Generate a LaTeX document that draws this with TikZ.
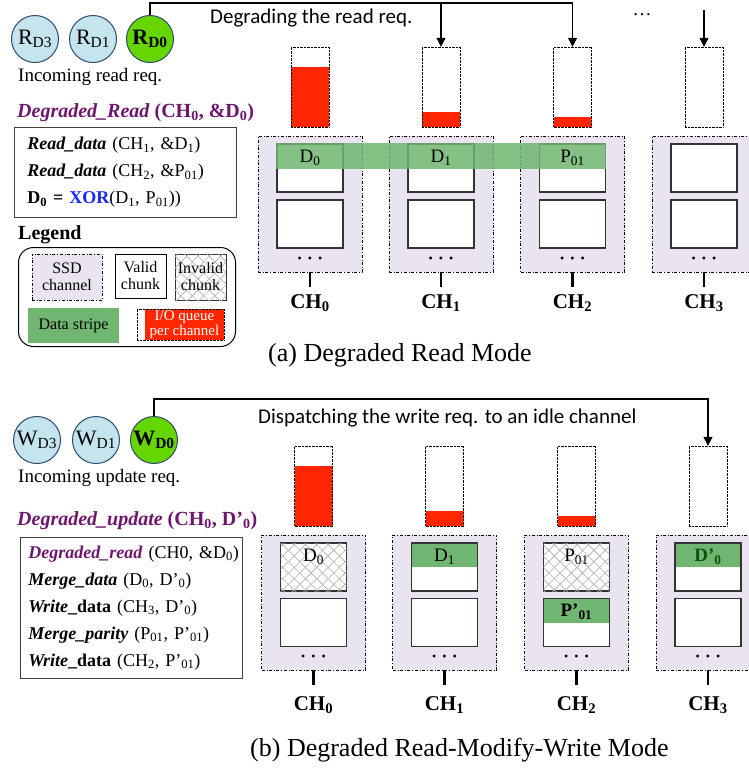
\documentclass[tikz,border=0pt]{standalone}
\usepackage{fontspec}
\setmainfont{Liberation Serif}[BoldItalicFont={Liberation Serif Bold Italic}]
\newfontfamily\calibri{Carlito}
\usetikzlibrary{positioning,arrows.meta,patterns.meta}

\definecolor{reqblue}{RGB}{196,228,238}
\definecolor{reqedge}{RGB}{48,72,110}
\definecolor{reqgreen}{RGB}{102,214,0}
\definecolor{qred}{RGB}{255,38,0}
\definecolor{chanfill}{RGB}{233,228,240}
\definecolor{stripegreen}{RGB}{112,182,112}
\definecolor{hatchgray}{RGB}{175,175,175}
\definecolor{titlepurple}{RGB}{110,22,110}
\definecolor{xorblue}{RGB}{20,40,245}
\definecolor{darkgreen}{RGB}{20,80,20}

\newcommand\fsz[1]{\fontsize{#1}{#1}\selectfont}

\begin{document}
\begin{tikzpicture}[x=1pt, y=-1pt,
  req/.style={circle, draw=reqedge, line width=1pt, fill=reqblue, minimum size=47pt, inner sep=0pt, font=\fsz{22}},
  reqhot/.style={req, fill=reqgreen, font=\fsz{22}\bfseries},
  queue/.style={draw, densely dotted, minimum width=38pt, minimum height=80pt, inner sep=0pt,
    path picture={\fill[qred] (path picture bounding box.south west) rectangle ([yshift=#1]path picture bounding box.south east);}},
  channel/.style={draw, dash dot, fill=chanfill, minimum width=104pt, minimum height=136pt, inner sep=0pt},
  chunk/.style={draw=black!80, line width=1.2pt, fill=white, minimum width=66pt, minimum height=48pt, inner sep=0pt},
  greentop/.style={chunk, path picture={\fill[stripegreen] (path picture bounding box.north west) rectangle ([yshift=-24pt]path picture bounding box.north east);}},
  invalid/.style={chunk,
    postaction={pattern={Lines[angle=45,distance=8pt,line width=0.6pt]}, pattern color=hatchgray},
    postaction={pattern={Lines[angle=-45,distance=8pt,line width=0.6pt]}, pattern color=hatchgray}},
  chunktext/.style={font=\fsz{19}, inner sep=0pt},
  dots/.style={font=\fsz{12}, inner sep=0pt},
  tick/.style={line width=2.5pt},
  chlabel/.style={font=\fsz{21}\bfseries, inner sep=0pt},
  plain/.style={font=\fsz{19}, inner sep=0pt, anchor=west},
  sans/.style={font=\calibri\fsz{21}, inner sep=0pt, anchor=west},
  title/.style={font=\fsz{20}\bfseries, text=titlepurple, inner sep=0pt, anchor=west},
  progbox/.style={draw=black!75, line width=0.8pt, anchor=north west, inner sep=0pt, align=left, font=\fsz{18}},
  legitem/.style={inner sep=0pt, align=center, font=\fontsize{16}{17}\selectfont},
  wire/.style={line width=1.1pt},
  arrow/.style={wire, -{Triangle[width=9pt,length=9pt]}},
  caption/.style={font=\fsz{26}, inner sep=0pt, anchor=west}
]
\useasboundingbox (0,0) rectangle (749,771);

% ---------------- (a) degraded read ----------------
\node[req] (rd3) at (35,39) {R\textsubscript{D3}};
\node[req] (rd1) at (93,39) {R\textsubscript{D1}};
\node[reqhot] (rd0) at (150,39) {R\textsubscript{D0}};
\node[plain] (inread) at (18,77) {Incoming read req.};
\node[sans] (degtxt) at (210,18) {Degrading the read req.};
\node[font=\fsz{19}, inner sep=0pt] (moredots) at (642,15) {\dots};

\node[title] (titlea) at (17,113) {\textit{Degraded\_Read} (CH\textsubscript{0}, \&D\textsubscript{0})};
\node[progbox, minimum width=222pt, minimum height=90pt, text width=222pt] (proga) at (14,127)
  {\hspace*{13pt}\textbf{\textit{Read\_data}} (CH\textsubscript{1}, \&D\textsubscript{1})\\[9pt]
   \hspace*{13pt}\textbf{\textit{Read\_data}} (CH\textsubscript{2}, \&P\textsubscript{01})\\[9pt]
   \hspace*{13pt}\textbf{D\textsubscript{0} = \textcolor{xorblue}{XOR}}(D\textsubscript{1}, P\textsubscript{01}))};

% legend
\node[font=\fsz{20}\bfseries, inner sep=0pt, anchor=west] (legtitle) at (18,235) {Legend};
\node[draw, line width=1pt, rounded corners=15pt, minimum width=217pt, minimum height=99pt, anchor=north west] (legbox) at (18,247) {};
\node[legitem, draw, dash dot, fill=chanfill, minimum width=70pt, minimum height=46pt] (legssd) at (67,277) {SSD\\channel};
\node[legitem, draw, line width=0.8pt, minimum width=51pt, minimum height=44pt] (legvalid) at (140.5,276) {Valid\\chunk};
\node[legitem, invalid, line width=0.8pt, minimum width=51pt, minimum height=46pt] (leginvalid) at (200.5,277) {Invalid\\chunk};
\node[legitem, fill=stripegreen, minimum width=91pt, minimum height=35pt] (legstripe) at (73.5,325.5) {Data stripe};
\node[legitem, draw, densely dotted, minimum width=87pt, minimum height=31pt, text=white, font=\fontsize{15}{15}\selectfont,
  path picture={\fill[qred] ([xshift=8pt]path picture bounding box.south west) rectangle (path picture bounding box.north east);}]
  (legqueue) at (180.5,324.5) {\hspace*{8pt}I/O queue\\\hspace*{8pt}per channel};

% channels
\foreach \i/\cx/\lvl in {0/310/60,1/441/15,2/572.5/10,3/704/0} {
  \node[queue=\lvl pt] (qa\i) at (\cx,87) {};
  \node[channel] (cha\i) at (\cx,204) {};
  \node[chunk] (ka\i) at (\cx,168) {};
  \node[chunk] (la\i) at (\cx,224) {};
  \node[dots] (da\i) at (\cx,260) {\textbullet\hspace{6pt}\textbullet\hspace{6pt}\textbullet};
  \draw[tick] (cha\i.south) -- ([yshift=-15pt]cha\i.south);
  \node[chlabel] (cla\i) at (\cx,303) {CH\textsubscript{\i}};
}
% data stripe
\fill[stripegreen, fill opacity=0.85] (ka0.north west) rectangle ([yshift=-26pt]ka2.north east);
\node[chunktext] (ta0) at ([yshift=-14pt]ka0.north) {D\textsubscript{0}};
\node[chunktext] (ta1) at ([yshift=-14pt]ka1.north) {D\textsubscript{1}};
\node[chunktext] (ta2) at ([yshift=-14pt]ka2.north) {P\textsubscript{01}};

% request routing
\coordinate (bendA) at (rd0.north |- 0,3);
\coordinate (splitA) at (qa1.north |- 0,3);
\coordinate (startA) at (qa3.north |- 0,10);
\draw[arrow] (rd0.north) -- (bendA) -| (qa2.north);
\draw[arrow] (splitA) -- (qa1.north);
\draw[arrow] (startA) -- (qa3.north);

\node[caption] (capa) at (268,355) {(a) Degraded Read Mode};

% ---------------- (b) degraded read-modify-write ----------------
\node[req] (wd3) at (37,440) {W\textsubscript{D3}};
\node[req] (wd1) at (96,440) {W\textsubscript{D1}};
\node[reqhot] (wd0) at (154,440) {W\textsubscript{D0}};
\node[plain] (inupd) at (18,478) {Incoming update req.};
\node[sans] (disptxt) at (258,418) {Dispatching the write req. to an idle channel};

\node[title] (titleb) at (17,521) {\textit{Degraded\_update} (CH\textsubscript{0}, D’\textsubscript{0})};
\node[progbox, minimum width=222pt, minimum height=141pt, text width=222pt] (progb) at (20,537)
  {\hspace*{8pt}\textcolor{titlepurple}{\textbf{\textit{Degraded\_read}}} (CH0, \&D\textsubscript{0})\\[9pt]
   \hspace*{8pt}\textbf{\textit{Merge\_data}} (D\textsubscript{0}, D’\textsubscript{0})\\[9pt]
   \hspace*{8pt}\textbf{\textit{Write}\_data} (CH\textsubscript{3}, D’\textsubscript{0})\\[9pt]
   \hspace*{8pt}\textbf{\textit{Merge\_parity}} (P\textsubscript{01}, P’\textsubscript{01})\\[9pt]
   \hspace*{8pt}\textbf{\textit{Write}\_data} (CH\textsubscript{2}, P’\textsubscript{01})};

% channels
\foreach \i/\cx/\lvl in {0/313.5/60,1/444.5/15,2/576.5/10,3/708/0} {
  \node[queue=\lvl pt] (qb\i) at (\cx,486) {};
  \node[channel, minimum height=135pt] (chb\i) at (\cx,602.5) {};
  \node[dots] (db\i) at (\cx,658) {\textbullet\hspace{6pt}\textbullet\hspace{6pt}\textbullet};
  \draw[tick] (chb\i.south) -- ([yshift=-15pt]chb\i.south);
  \node[chlabel] (clb\i) at (\cx,705) {CH\textsubscript{\i}};
}
\node[invalid] (kb0) at (313.5,567) {};
\node[chunk] (lb0) at (313.5,622.5) {};
\node[greentop] (kb1) at (444.5,567) {};
\node[chunk] (lb1) at (444.5,622.5) {};
\node[invalid] (kb2) at (576.5,567) {};
\node[greentop] (lb2) at (576.5,622.5) {};
\node[greentop] (kb3) at (708,567) {};
\node[chunk] (lb3) at (708,622.5) {};
\node[chunktext] (tb0) at ([yshift=-14pt]kb0.north) {D\textsubscript{0}};
\node[chunktext] (tb1) at ([yshift=-14pt]kb1.north) {D\textsubscript{1}};
\node[chunktext] (tb2) at ([yshift=-14pt]kb2.north) {P\textsubscript{01}};
\node[chunktext, font=\fsz{19}\bfseries] (ub2) at ([yshift=-14pt]lb2.north) {P’\textsubscript{01}};
\node[chunktext, font=\fsz{19}\bfseries, text=darkgreen] (tb3) at ([yshift=-14pt]kb3.north) {D’\textsubscript{0}};

% request routing
\coordinate (bendB) at (wd0.north |- 0,399);
\draw[arrow] (wd0.north) -- (bendB) -| (qb3.north);

\node[caption] (capb) at (250,750) {(b) Degraded Read-Modify-Write Mode};
\end{tikzpicture}
\end{document}
